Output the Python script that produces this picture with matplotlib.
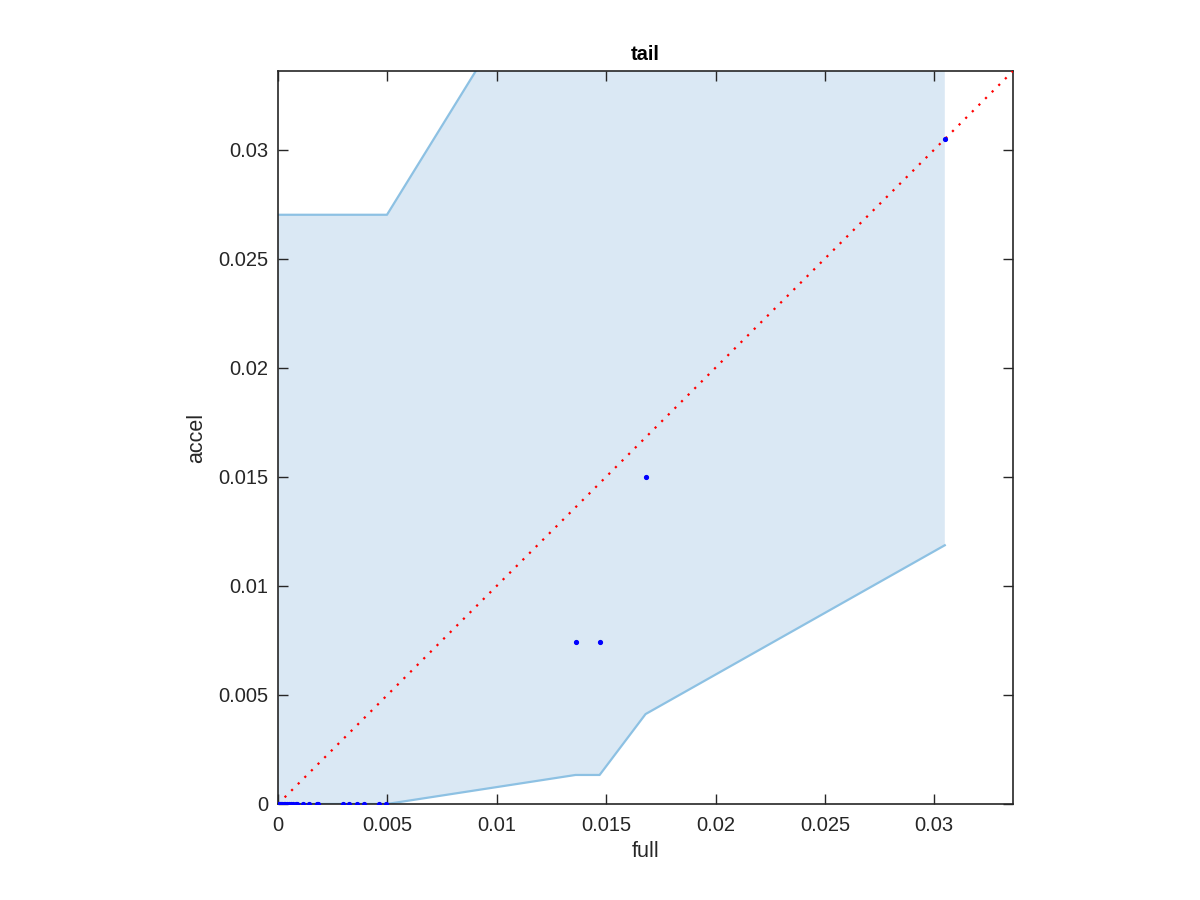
import numpy as np
import matplotlib
matplotlib.use("Agg")
import matplotlib.pyplot as plt
from matplotlib.ticker import FuncFormatter

plt.rcParams['font.family'] = ['Liberation Sans', 'DejaVu Sans']

# band boundaries
band_x = [0.0, 0.00498, 0.0136, 0.0147, 0.0168, 0.03048]
band_lower = [0.0, 0.0, 0.00133, 0.00133, 0.00412, 0.01186]
band_upper = [0.02701, 0.02701, 0.0410, 0.0428, 0.0462, 0.0685]

# scatter points
pts_x = [0.0, 0.00005, 0.0001, 0.00015, 0.0002, 0.00025, 0.0003, 0.0004,
         0.0005, 0.0006, 0.0007, 0.0008, 0.00085, 0.00116, 0.00143, 0.00177,
         0.00184, 0.00299, 0.00326, 0.00363, 0.00395, 0.00463, 0.00494,
         0.0136, 0.0147, 0.0168, 0.03048]
pts_y = [0.0] * 23 + [0.00742, 0.00742, 0.01497, 0.03048]

lim = 0.0336

fig = plt.figure(figsize=(12, 9), dpi=100)
ax = fig.add_axes([0.2317, 0.1067, 0.6125, 0.8144])

ax.fill_between(band_x, band_lower, band_upper, facecolor='#DAE8F4',
                edgecolor='none', zorder=1)
ax.plot(band_x, band_upper, color='#8DC1E3', lw=1.6, zorder=2)
ax.plot(band_x, band_lower, color='#8DC1E3', lw=1.6, zorder=2)
ax.plot([0, lim], [0, lim], color='red', ls=(0, (1, 3.2)), lw=1.6, zorder=3)
ax.plot(pts_x, pts_y, '.', color='blue', ms=5.5, zorder=4)

ax.set_xlim(0, lim)
ax.set_ylim(0, lim)
ticks = [0, 0.005, 0.01, 0.015, 0.02, 0.025, 0.03]
ax.set_xticks(ticks)
ax.set_yticks(ticks)
fmt = FuncFormatter(lambda v, p: '%g' % v)
ax.xaxis.set_major_formatter(fmt)
ax.yaxis.set_major_formatter(fmt)
ax.tick_params(direction='in', length=7, width=1, top=True, right=True,
               labelsize=14.5, colors='#262626')
ax.tick_params(axis='x', pad=9)
ax.tick_params(axis='y', pad=7)
for s in ax.spines.values():
    s.set_color('#262626')
    s.set_linewidth(1.2)

ax.set_xlabel('full', fontsize=15.5, color='#262626', labelpad=4)
ax.set_ylabel('accel', fontsize=15.5, color='#262626', labelpad=8)
ax.set_title('tail', fontsize=14.5, fontweight='bold', pad=8)

fig.savefig('out.png', dpi=100)
